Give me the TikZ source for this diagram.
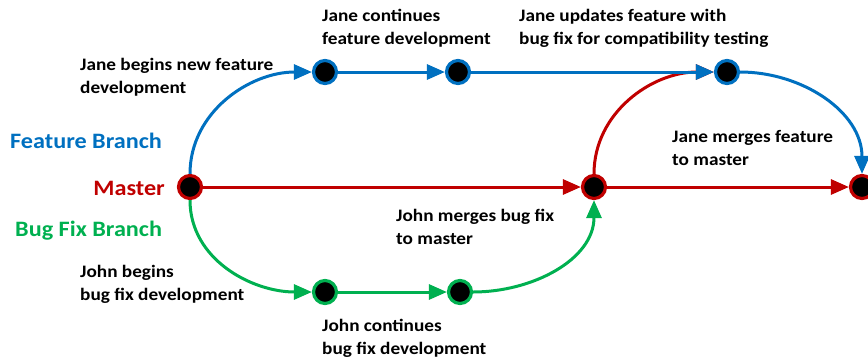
\documentclass[tikz,border=0pt]{standalone}
\usepackage{fontspec}
\setmainfont{Carlito}[FakeStretch=1.1]
\usepackage{xcolor}
\usepackage{tikz}
\usetikzlibrary{arrows.meta,positioning}
\definecolor{azul}{HTML}{0070C0}
\definecolor{vermelho}{HTML}{C00000}
\definecolor{verde}{HTML}{00B050}
\tikzset{
  commit/.style={circle, fill=black, line width=3.2pt, minimum size=23pt, inner sep=0pt},
  ramo/.style={-{Triangle[length=18pt,width=15pt]}, line width=3pt},
  nota/.style={anchor=north west, align=left, inner sep=0pt,
    font=\fontsize{17.5}{23}\selectfont\bfseries},
  rotulo/.style={inner sep=0pt, font=\fontsize{22}{26}\selectfont\bfseries},
}

\begin{document}
\begin{tikzpicture}[x=1pt, y=-1pt]
    \useasboundingbox (0,0) rectangle (868,360);
    % commits
    \node[commit, draw=vermelho] (m0) at (190,187) {};
    \node[commit, draw=vermelho] (m1) at (594,187) {};
    \node[commit, draw=vermelho] (m2) at (862,187) {};
    \node[commit, draw=azul] (f1) at (325,72) {};
    \node[commit, draw=azul] (f2) at (458,72) {};
    \node[commit, draw=azul] (f3) at (727,72) {};
    \node[commit, draw=verde] (b1) at (325,292) {};
    \node[commit, draw=verde] (b2) at (460,292) {};
    % branch names
    \node[rotulo, anchor=base west, text=azul] (lf) at (10,148) {Feature Branch};
    \node[rotulo, anchor=base east, text=vermelho] (lm) at (165,195) {Master};
    \node[rotulo, anchor=base west, text=verde] (lb) at (15,236) {Bug Fix Branch};
    % notes
    \node[nota] (n1) at (80,58) {Jane begins new feature\\development};
    \node[nota] (n2) at (322,9) {Jane continues\\feature development};
    \node[nota] (n3) at (519,9) {Jane updates feature with\\bug fix for compatibility testing};
    \node[nota] (n4) at (672,130) {Jane merges feature\\to master};
    \node[nota] (n5) at (396,209) {John merges bug fix\\to master};
    \node[nota] (n6) at (80,265) {John begins\\bug fix development};
    \node[nota] (n7) at (322,319) {John continues\\bug fix development};
    % master
    \draw[ramo, vermelho] (m0) -- (m1);
    \draw[ramo, vermelho] (m1) -- (m2);
    \draw[ramo, vermelho] (m1.north) to[out=90, in=180] (f3.west);
    % feature
    \draw[ramo, azul] (m0.north) to[out=90, in=180] (f1.west);
    \draw[ramo, azul] (f1) -- (f2);
    \draw[ramo, azul] (f2) -- (f3);
    \draw[ramo, azul] (f3.east) to[out=0, in=90] (m2.north);
    % bug fix
    \draw[ramo, verde] (m0.south) to[out=270, in=180] (b1.west);
    \draw[ramo, verde] (b1) -- (b2);
    \draw[ramo, verde] (b2.east) to[out=0, in=270] (m1.south);
\end{tikzpicture}
\end{document}
